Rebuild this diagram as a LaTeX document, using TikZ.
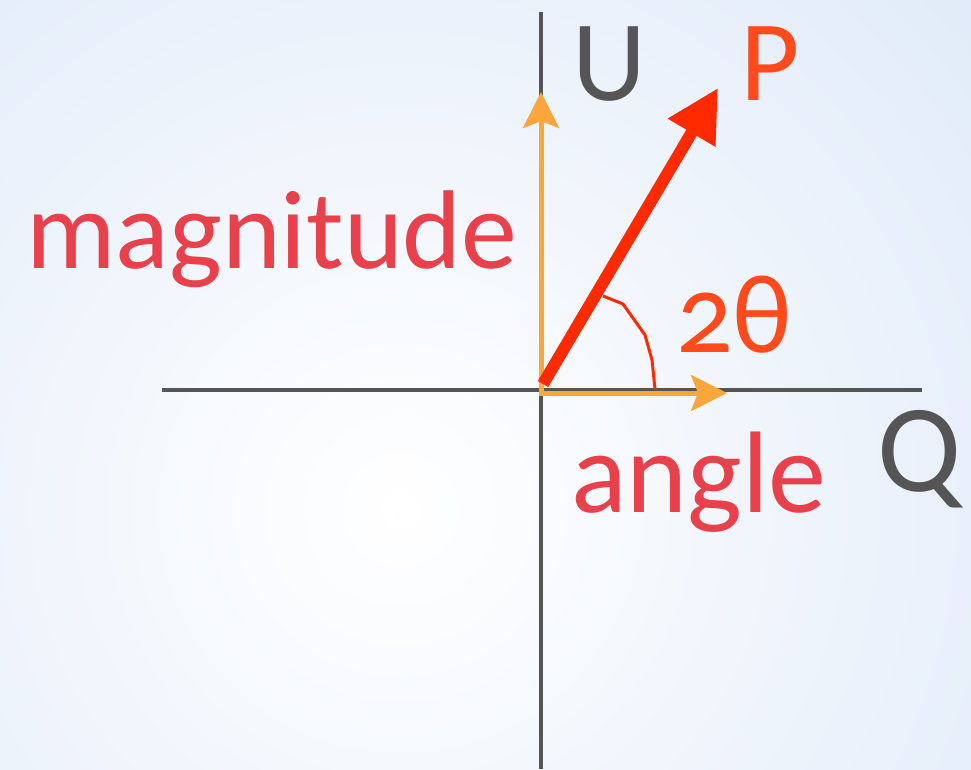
\documentclass[tikz,border=0pt]{standalone}
\usepackage{fontspec}
\setmainfont{Carlito}
\usetikzlibrary{arrows.meta}
\definecolor{axisgray}{HTML}{555555}
\definecolor{orng}{HTML}{FBA63D}
\definecolor{pred}{HTML}{FF2A00}
\definecolor{lblred}{HTML}{E8414B}
\definecolor{lblorange}{HTML}{FF4A1C}
\definecolor{bgblue}{HTML}{D2E1F6}
\begin{document}
\begin{tikzpicture}[x=1pt,y=-1pt,
  axis/.style={draw=axisgray, line width=4pt},
  oarrow/.style={draw=orng, line width=5pt, -{Stealth[length=36pt,width=36pt,inset=7pt]}},
  parrow/.style={draw=pred, line width=12pt, -{Triangle[length=52pt,width=52pt]}},
  arcline/.style={draw=pred, line width=3pt, line join=round},
  lbl/.style={inner sep=0pt, anchor=base west, font=\fontsize{112}{120}\selectfont},
  biglbl/.style={inner sep=0pt, anchor=base west, font=\fontsize{115}{125}\selectfont}
]
\useasboundingbox (0,0) rectangle (971,769);
\begin{scope}
  \clip (0,0) rectangle (971,769);
  \fill[bgblue] (0,0) rectangle (971,769);
  \shade[inner color=white, outer color=bgblue] (400,510) circle (1150pt);
\end{scope}
% coordinates
\coordinate (O) at (541,390);
\coordinate (vtop) at (541,12);
\coordinate (vbot) at (541,769);
\coordinate (hl) at (162,390);
\coordinate (hr) at (922,390);
\coordinate (ovs) at (541,392);
\coordinate (Utip) at (541,92);
\coordinate (ohs) at (539,393);
\coordinate (Qtip) at (727,393);
\coordinate (ps) at (543,384);
\coordinate (Ptip) at (718,88);
% axes
\draw[axis] (vtop) -- (vbot);
\draw[axis] (hl) -- (hr);
% orange arrows
\draw[oarrow] (ovs) -- (Utip);
\draw[oarrow] (ohs) -- (Qtip);
% red vector
\draw[parrow] (ps) -- (Ptip);
% angle mark
\coordinate (a1) at (603,296);
\coordinate (a2) at (623,304);
\coordinate (a3) at (645,335);
\coordinate (a4) at (652,360);
\coordinate (a5) at (655,389);
\draw[arcline] (a1) -- (a2) -- (a3) -- (a4) -- (a5);
% labels
\node[lbl, text=lblred] (mag) at (26,268) {magnitude};
\node[lbl, text=lblred, font=\fontsize{116}{124}\selectfont] (ang) at (571,512) {angle};
\node[lbl, text=lblorange] (th) at (676,352) {\addfontfeatures{Numbers=OldStyle}2θ};
\node[biglbl, text=axisgray] (U) at (572,100) {U};
\node[biglbl, text=lblorange] (P) at (740,100) {P};
\node[inner sep=0pt, anchor=base west, font=\fontsize{125}{135}\selectfont, text=axisgray] (Q) at (877,491) {Q};
\end{tikzpicture}
\end{document}
